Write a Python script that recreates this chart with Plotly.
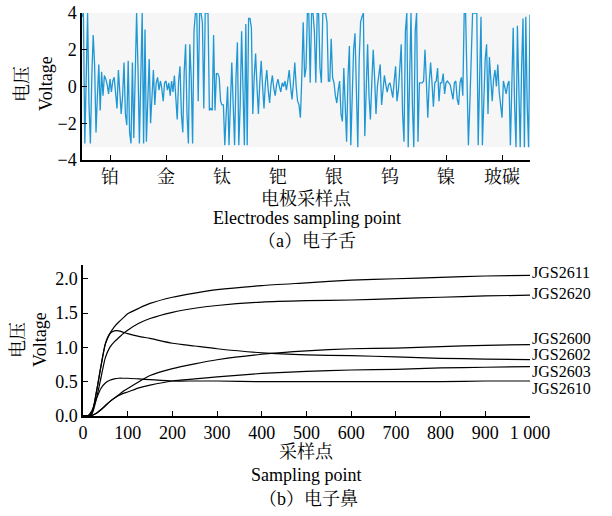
import plotly.graph_objects as go

W, H = 612, 516

# ---------------- (a) electronic tongue ----------------
electrodes = ["铂", "金", "钛", "钯", "银", "钨", "镍", "玻碳"]
seg_step = 0.025  # electrode units per sample

pt = [3.8, 4.0, -3.1, 1.5, 4.0, -1.0, -3.1, 0.5, 2.8, 1.2, -2.5, -0.5, 1.2, -1.3, 0.8, -0.5,
      0.6, 0.4, 0.1, -0.4, 0.4, -0.3, 0.3, 0.5, -0.6, -1.2, 0.9, -0.3, -1.5, -0.5, 1.3, -1.5,
      -2.1, 1.4, -2.5, -3.1, 1.3, -2.8, 0.5, 4.0]
au = [1.0, -3.1, 0.5, 4.0, -3.1, 3.1, -3.0, -0.5, 1.5, -2.0, -0.3, 0.9, -1.0, 0.2, 0.5, -0.2,
      0.3, -0.1, -0.8, 0.2, 0.3, -0.2, 0.2, -0.5, 0.3, -0.3, 0.6, -0.6, -1.8, 0.3, 1.1, -1.5,
      -2.5, 0.8, 2.3, -1.5, -3.1, 2.3, 0.5, -3.1]
ti = [3.0, 4.0, 4.0, -0.8, 4.0, 4.0, 3.5, -1.2, 4.0, 4.0, 4.0, -1.3, -1.2, -1.3, 2.8, -1.3,
      0.7, 0.7, 0.5, -0.8, -1.0, -1.0, -3.2, -1.5, 0.0, -3.2, -1.0, 1.3, -1.0, -3.2, 0.5, 2.4,
      -3.2, -1.0, 3.0, 0.5, -3.2, 3.4, -3.2, 3.7]
pd_ = [3.7, 3.2, -1.5, 0.5, 1.8, 0.0, -1.5, 0.2, 1.4, 0.0, -1.2, 0.2, 0.9, -0.2, -0.9, 0.1,
       0.6, -0.1, -0.5, 0.1, 0.4, 0.0, -0.3, 0.2, 0.0, 0.3, -0.2, 0.3, 0.9, 0.0, -0.7, 0.2,
       1.3, 0.0, -0.8, -1.0, -1.7, 0.5, 3.5, 0.5]
ag = [1.0, 4.0, 4.0, 0.2, 4.0, 4.0, 3.0, 0.2, 4.0, 4.0, 1.0, 0.2, 4.0, 4.0, 4.0, 3.5,
      0.3, 0.3, 2.6, 0.5, 0.2, -0.5, -0.9, -0.2, 0.3, -1.5, -1.9, 1.0, -1.0, -3.0, 0.5, 2.2,
      -3.2, -1.0, 2.0, 2.9, -1.0, -3.3, 1.5, 3.5]
w_ = [3.8, 4.0, -2.7, 0.0, 2.3, -0.5, -1.8, 0.2, 2.0, 0.5, -1.5, 0.0, 0.5, 1.2, -1.0, 0.0,
      0.6, 0.1, -0.3, 0.1, 0.2, -0.2, -0.6, 0.3, 1.1, -0.8, -0.2, 1.0, 2.3, -1.5, -3.0, 3.0,
      4.0, -3.3, 0.0, 4.0, -1.0, -3.3, 3.0, 4.0]
ni = [-3.0, 0.2, 0.2, 0.2, 0.3, 2.0, 0.2, -1.7, 0.2, 1.3, 0.2, -1.1, 0.2, 0.3, 1.0, -0.8,
      0.2, 0.2, 0.7, -0.4, 0.2, 0.3, 0.2, 0.1, -0.3, -0.7, 0.2, 0.3, -0.7, -1.0, 0.2, 0.5,
      -0.5, 4.0, 4.0, 0.0, -3.2, -1.0, 2.0, 4.0]
gc = [4.0, 4.0, 4.0, -3.2, 0.0, 3.8, -3.2, -1.0, 1.5, 2.3, -1.5, 1.6, 0.3, -0.8, 0.4, 0.9,
      0.0, 1.2, -0.3, -1.0, -1.7, 0.3, 0.0, -0.4, 0.1, 0.3, -3.2, 0.5, 3.2, -1.0, -3.3, 3.3,
      0.0, -3.3, 1.0, 3.7, -3.3, 3.8, -1.0, -3.3, 3.9]

tongue = pt + au + ti + pd_ + ag + w_ + ni + gc
tongue_x = [i * seg_step for i in range(len(tongue))]

# ---------------- (b) electronic nose ----------------
nose_x = [0, 10, 20, 30, 40, 50, 60, 70, 80, 90, 100, 125, 150, 200, 250, 300, 400, 500,
          600, 700, 800, 900, 1000]
jgs2611 = [0, 0.0, 0.05, 0.35, 0.72, 1.05, 1.2, 1.3, 1.37, 1.43, 1.49, 1.57, 1.64, 1.73, 1.79,
           1.84, 1.90, 1.94, 1.98, 2.00, 2.02, 2.04, 2.05]
jgs2620 = [0, 0.0, 0.03, 0.25, 0.55, 0.85, 1.0, 1.08, 1.14, 1.2, 1.25, 1.35, 1.42, 1.51, 1.57,
           1.61, 1.66, 1.68, 1.69, 1.71, 1.73, 1.75, 1.76]
jgs2600 = [0, 0.0, 0.01, 0.04, 0.09, 0.15, 0.21, 0.26, 0.31, 0.36, 0.40, 0.50, 0.59, 0.69, 0.76,
           0.82, 0.90, 0.95, 0.98, 0.99, 1.01, 1.03, 1.04]
jgs2602 = [0, 0.0, 0.05, 0.35, 0.72, 1.05, 1.2, 1.24, 1.24, 1.22, 1.20, 1.16, 1.13, 1.06, 1.02,
           0.98, 0.92, 0.89, 0.88, 0.86, 0.84, 0.83, 0.82]
jgs2603 = [0, 0.0, 0.01, 0.04, 0.09, 0.15, 0.21, 0.26, 0.30, 0.33, 0.35, 0.41, 0.45, 0.51, 0.54,
           0.57, 0.62, 0.65, 0.67, 0.68, 0.70, 0.71, 0.72]
jgs2610 = [0, 0.0, 0.08, 0.25, 0.40, 0.48, 0.52, 0.54, 0.55, 0.55, 0.55, 0.54, 0.53, 0.51, 0.51,
           0.51, 0.50, 0.50, 0.50, 0.50, 0.50, 0.51, 0.51]
sensors = ["JGS2611", "JGS2620", "JGS2600", "JGS2602", "JGS2603", "JGS2610"]
sensor_data = [jgs2611, jgs2620, jgs2600, jgs2602, jgs2603, jgs2610]
label_y = [2.087, 1.78, 1.13, 0.89, 0.645, 0.40]

nose_ticks = [0, 100, 200, 300, 400, 500, 600, 700, 800, 900, 1000]
nose_ticktext = ["0", "100", "200", "300", "400", "500", "600", "700", "800", "900", "1 000"]

FONT = "Liberation Serif, Times New Roman, Noto Serif CJK SC, Noto Sans CJK SC, serif"
FS = 18

fig = go.Figure()
fig.add_trace(go.Scatter(x=tongue_x, y=tongue, mode="lines",
                         line=dict(color="#1f97d4", width=1.3),
                         xaxis="x", yaxis="y", showlegend=False, hoverinfo="skip"))
for name, vals in zip(sensors, sensor_data):
    fig.add_trace(go.Scatter(x=nose_x, y=vals, mode="lines", name=name,
                             line=dict(color="black", width=1.2, shape="spline", smoothing=0.6),
                             xaxis="x2", yaxis="y2", showlegend=False, hoverinfo="skip"))

def px(x):
    return x / W

def py(y):
    return 1 - y / H

axis_common = dict(showline=True, linecolor="black", linewidth=1.5, ticks="inside",
                   ticklen=5, tickwidth=1.3, tickcolor="black", showgrid=False,
                   zeroline=False, automargin=False,
                   tickfont=dict(family=FONT, size=FS, color="black"))

fig.update_layout(
    width=W, height=H, margin=dict(l=0, r=0, t=0, b=0, pad=0, autoexpand=False),
    paper_bgcolor="white", plot_bgcolor="white",
    font=dict(family=FONT, size=FS, color="black"),
    xaxis=dict(domain=[px(82), px(530)], range=[0, 8], anchor="y",
               tickvals=[0.5, 1.5, 2.5, 3.5, 4.5, 5.5, 6.5, 7.5, 8],
               ticktext=electrodes + [""], **axis_common),
    yaxis=dict(domain=[py(160), py(13)], range=[-4, 4], anchor="x",
               tickvals=[-4, -2, 0, 2, 4], **axis_common),
    xaxis2=dict(domain=[px(83), px(530)], range=[0, 1000], anchor="y2",
                tickvals=nose_ticks, ticktext=nose_ticktext, **axis_common),
    yaxis2=dict(domain=[py(416), py(265)], range=[0, 2.2], anchor="x2",
                tickvals=[0, 0.5, 1.0, 1.5, 2.0], tickformat=".1f", **axis_common),
)

fig.add_shape(type="rect", xref="x", yref="y", x0=0, x1=8, y0=-3.3, y1=4,
              fillcolor="#f6f6f6", line=dict(width=0), layer="below")

for name, ly in zip(sensors, label_y):
    fig.add_annotation(x=1000, y=ly, xref="x2", yref="y2", text=name, showarrow=False,
                       xanchor="left", yanchor="middle", xshift=1, borderpad=0,
                       font=dict(family=FONT, size=16, color="black"))

def txt(text, x, y, angle=0, size=FS):
    fig.add_annotation(x=px(x), y=py(y), xref="paper", yref="paper", text=text,
                       showarrow=False, xanchor="center", yanchor="middle", textangle=angle,
                       font=dict(family=FONT, size=size, color="black"))

txt("电压", 22, 84, -90)
txt("Voltage", 46, 84, -90)
txt("电极采样点", 306, 198)
txt("Electrodes sampling point", 307, 218)
txt("（a）电子舌", 307, 241)
txt("电压", 18, 340, -90)
txt("Voltage", 40, 340, -90)
txt("采样点", 306, 452)
txt("Sampling point", 306, 475)
txt("（b）电子鼻", 308, 499)

fig.write_html("out.html", config={"displayModeBar": False},
               post_script="document.body.style.margin='0';document.body.style.overflow='hidden';")
